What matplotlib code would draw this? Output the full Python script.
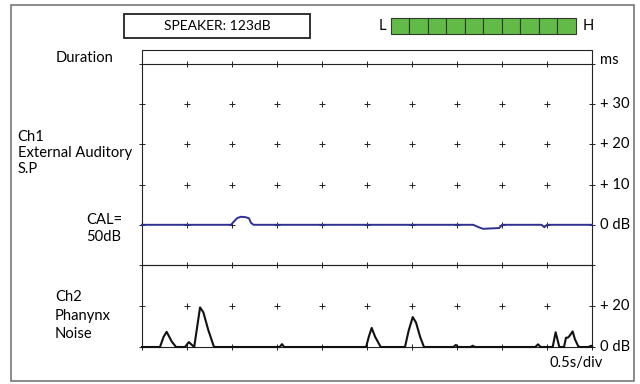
import numpy as np
import matplotlib.pyplot as plt
from matplotlib.patches import Rectangle

plt.rcParams['font.family'] = ['Lato', 'DejaVu Sans']
plt.rcParams['font.size'] = 10.6

# Ch1: external auditory sound pressure (dB re CAL), time in s
ch1_t = [0.0, 0.99, 1.02, 1.06, 1.10, 1.15, 1.19, 1.21, 1.24, 3.68, 3.74, 3.79,
         3.97, 4.00, 4.44, 4.47, 4.50, 5.0]
ch1_db = [0.0, 0.0, 0.8, 1.7, 2.0, 1.9, 1.6, 0.5, 0.0, 0.0, -0.6, -1.0,
          -0.8, 0.0, 0.0, -0.6, 0.0, 0.0]

# Ch2: pharynx noise (dB)
ch2_t = [0.0, 0.20, 0.24, 0.274, 0.33, 0.378, 0.478, 0.52, 0.572, 0.58, 0.645,
         0.681, 0.737, 0.80, 1.53, 1.555, 1.58, 2.49, 2.52, 2.552, 2.59, 2.652,
         2.922, 2.963, 3.008, 3.044, 3.09, 3.133, 3.46, 3.487, 3.51, 3.65, 3.674,
         3.70, 4.37, 4.40, 4.43, 4.563, 4.596, 4.637, 4.689, 4.711, 4.733, 4.752,
         4.785, 4.81, 4.848, 4.867, 4.96, 4.99, 5.0]
ch2_db = [0.0, 0.0, 5.0, 7.4, 2.7, 0.0, 0.0, 2.4, 0.3, 0.0, 19.3,
          17.0, 8.2, 0.0, 0.0, 1.4, 0.0, 0.0, 5.0, 9.3, 5.0, 0.0,
          0.0, 8.0, 14.6, 12.0, 5.0, 0.0, 0.0, 1.0, 0.0, 0.0, 0.6,
          0.0, 0.0, 1.3, 0.0, 0.0, 7.2, 0.0, 0.0, 4.5, 4.6, 5.5,
          7.6, 3.8, 0.3, 0.0, 0.0, 0.6, 0.3]

speaker_db = 123
level_segments = 10
level_lit = 10

ch1_rows = [-10, 0, 10, 20, 30, 40]
ch1_ticks = [0, 10, 20, 30]
ch1_labels = ['0 dB', '+ 10', '+ 20', '+ 30']
ch2_rows = [0, 20]
ch2_ticks = [0, 20]
ch2_labels = ['0 dB', '+ 20']
div_times = np.arange(0, 5.01, 0.5)

W, H = 640, 384


def px_box(x0, y0, x1, y1):
    return [x0 / W, 1 - y1 / H, (x1 - x0) / W, (y1 - y0) / H]


fig = plt.figure(figsize=(W / 100, H / 100), dpi=100)

# panel furniture drawn in pixel space
bg = fig.add_axes([0, 0, 1, 1])
bg.set_xlim(0, W)
bg.set_ylim(H, 0)
bg.axis('off')
bg.add_patch(Rectangle((11, 5), 623, 376, fill=False, ec='#6b6b6b', lw=1.1))
bg.add_patch(Rectangle((124, 14), 186, 24, fill=False, ec='#222222', lw=1.3))
bg.text(217, 26.5, f'SPEAKER: {speaker_db}dB', ha='center', va='center', fontsize=10)

seg_w = (575.5 - 390.5) / level_segments
for i in range(level_segments):
    fc = '#63bb47' if i < level_lit else 'white'
    bg.add_patch(Rectangle((390.5 + i * seg_w, 17.5), seg_w, 16, fc=fc, ec='#2f3a28', lw=0.8))
bg.text(382, 26, 'L', ha='center', va='center')
bg.text(588, 26, 'H', ha='center', va='center')

bg.plot([142, 142, 592, 592], [64, 50, 50, 64], color='#222222', lw=0.8)
bg.text(85, 58, 'Duration', ha='center', va='center')
bg.text(600, 60, 'ms', ha='left', va='center')

bg.text(17.5, 137, 'Ch1', ha='left', va='center')
bg.text(17.5, 153, 'External Auditory', ha='left', va='center')
bg.text(17.5, 169, 'S.P', ha='left', va='center')
bg.text(104, 220, 'CAL=', ha='center', va='center')
bg.text(104, 237, '50dB', ha='center', va='center')
bg.text(55, 297, 'Ch2', ha='left', va='center')
bg.text(55, 316, 'Phanynx', ha='left', va='center')
bg.text(55, 334, 'Noise', ha='left', va='center')
bg.text(603, 363, '0.5s/div', ha='right', va='center')

ax1 = fig.add_axes(px_box(142, 64, 592, 265))
ax2 = fig.add_axes(px_box(142, 265, 592, 347))
for ax in (ax1, ax2):
    ax.set_xlim(0, 5)
    ax.set_xticks([])
    ax.set_yticks([])
    ax.patch.set_alpha(0)
    for s in ax.spines.values():
        s.set_color('#222222')
        s.set_linewidth(0.8)
ax1.set_ylim(-10, 40)
ax2.set_ylim(0, 40)

# division crosses
tt, rr = np.meshgrid(div_times, ch1_rows)
ax1.plot(tt.ravel(), rr.ravel(), '+', color='#222222', ms=5, mew=0.7, clip_on=False)
tt, rr = np.meshgrid(div_times, ch2_rows)
ax2.plot(tt.ravel(), rr.ravel(), '+', color='#222222', ms=5, mew=0.7, clip_on=False)

ax1.plot(ch1_t, ch1_db, color='#2e3192', lw=1.4, clip_on=False, zorder=3)
ax2.plot(ch2_t, ch2_db, color='#111111', lw=1.5, clip_on=False, zorder=3)

for v, lab in zip(ch1_ticks, ch1_labels):
    ax1.text(1.017, v, lab, transform=ax1.get_yaxis_transform(), ha='left', va='center')
for v, lab in zip(ch2_ticks, ch2_labels):
    ax2.text(1.017, v, lab, transform=ax2.get_yaxis_transform(), ha='left', va='center')

fig.savefig('out.png', dpi=100)
